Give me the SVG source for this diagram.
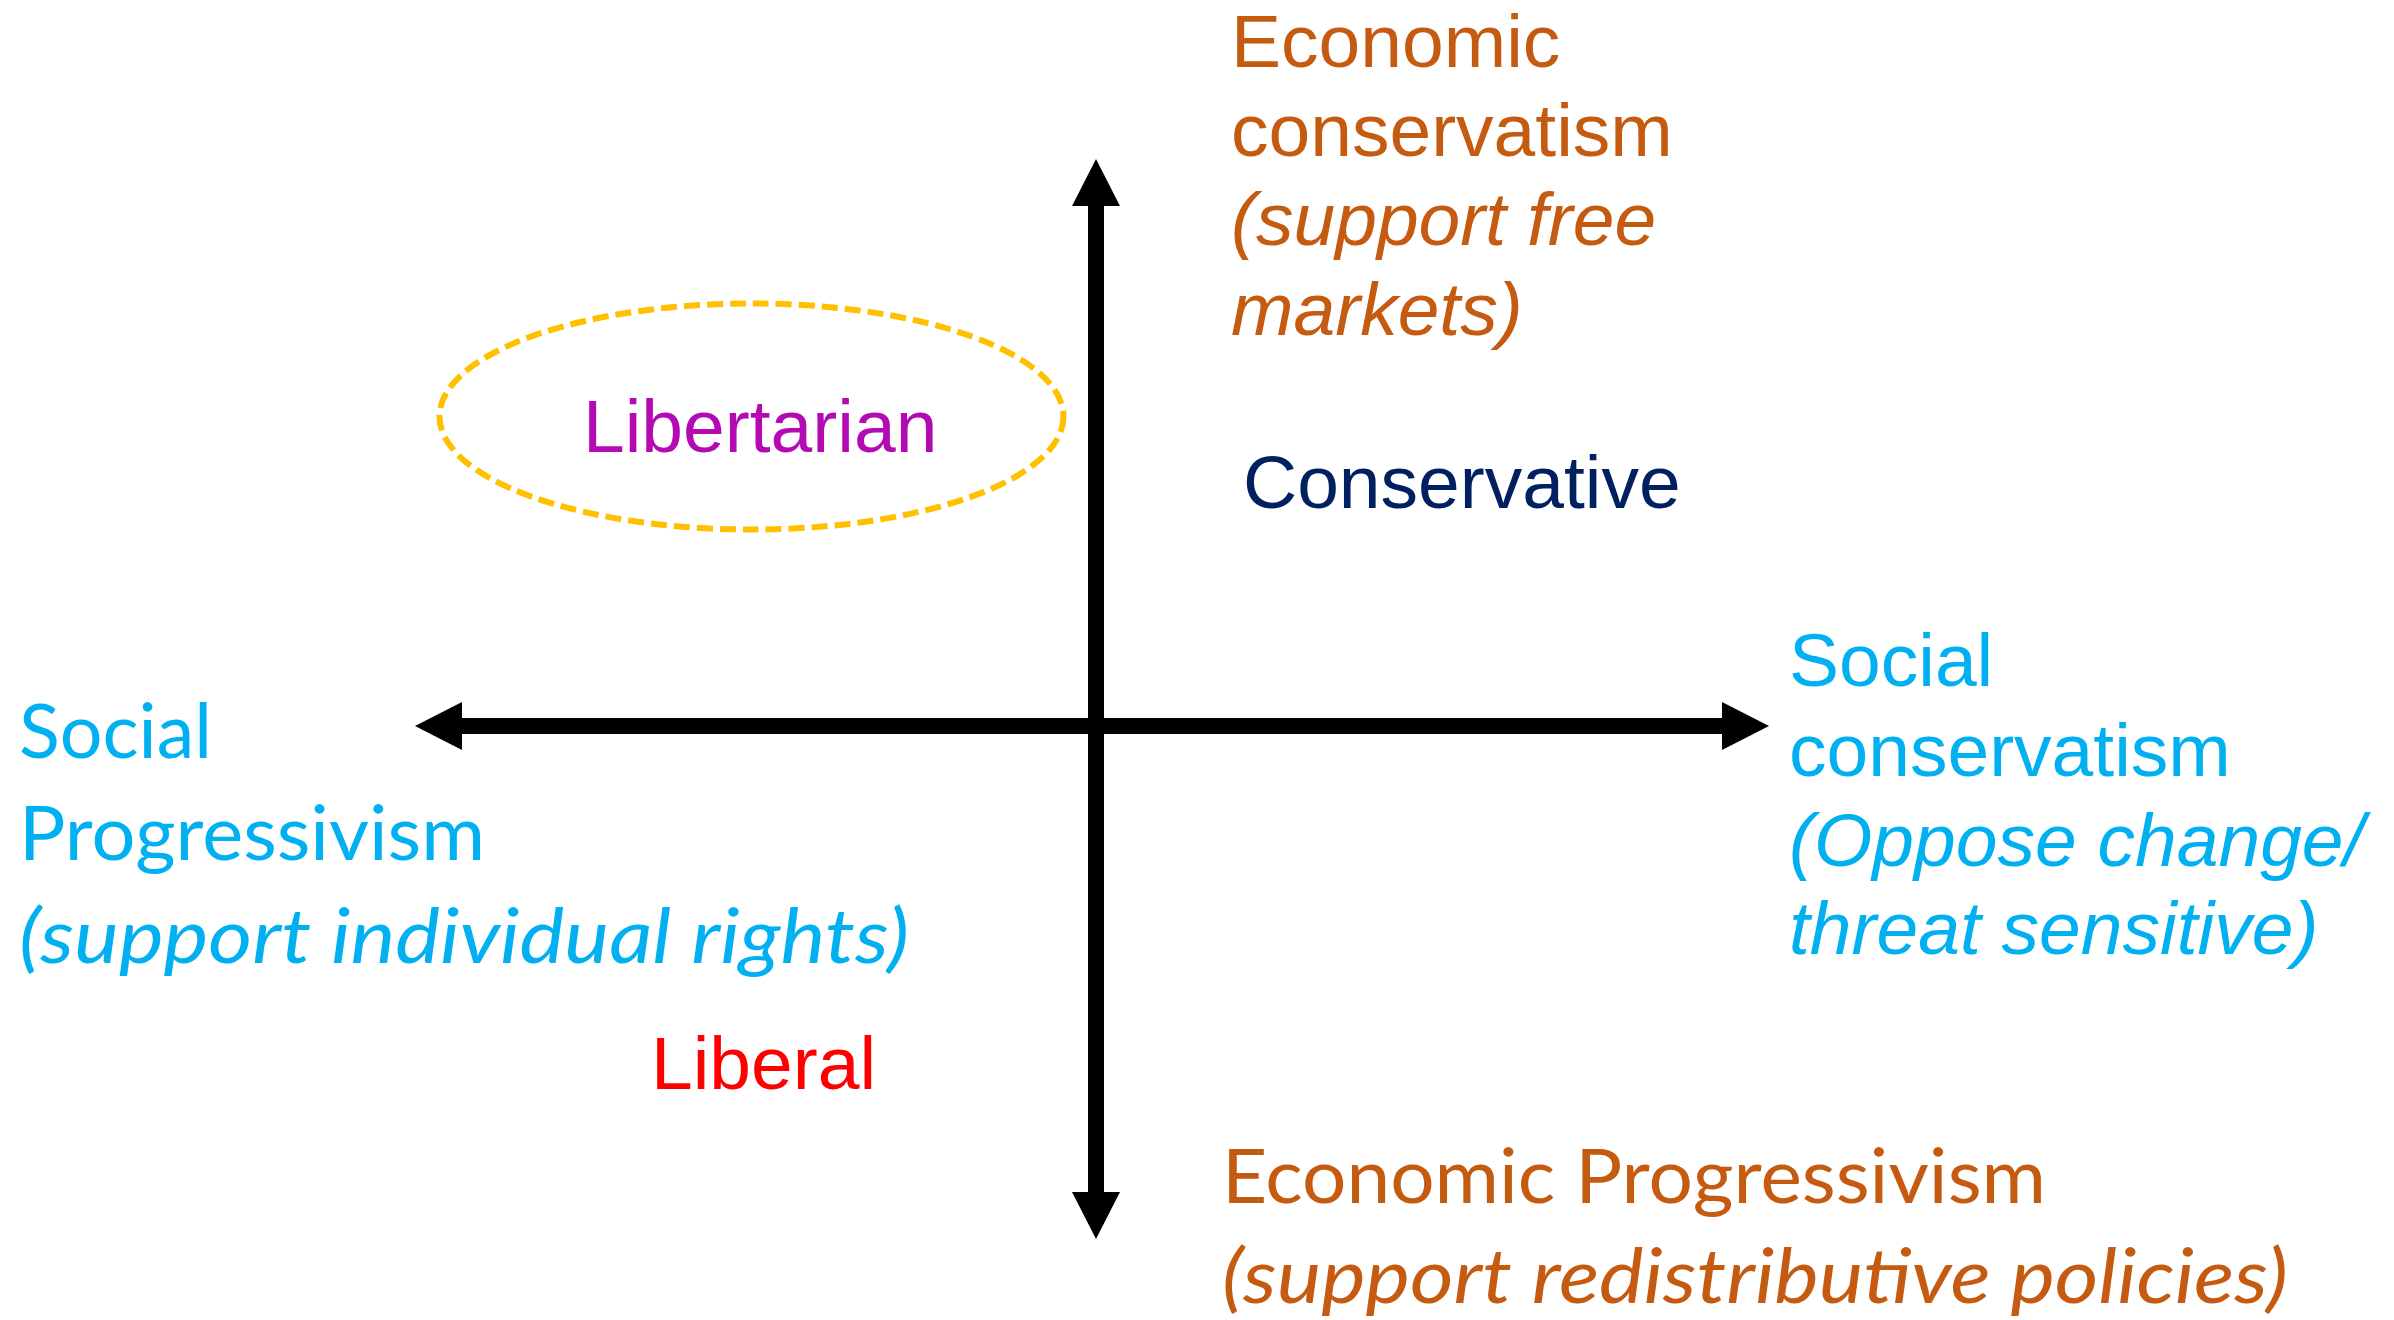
<svg xmlns="http://www.w3.org/2000/svg" width="2394" height="1320" viewBox="0 0 2394 1320">
  <style>
    .arial { font-family: "Liberation Sans", Arial, sans-serif; font-size: 75px; }
    .cal { font-family: Lato, "Open Sans", sans-serif; font-size: 76px; }
    .econ { fill: #C55A11; }
    .soc { fill: #00B0F0; }
    .it { font-style: italic; }
    .axis { stroke: #000; stroke-width: 16; fill: none; }
  </style>
  <defs>
    <marker id="head" markerUnits="userSpaceOnUse" markerWidth="48" markerHeight="48" viewBox="0 0 48 48" refX="0" refY="24" orient="auto-start-reverse">
      <path d="M0,0 L47,24 L0,48 Z" fill="#000"/>
    </marker>
  </defs>
  <rect width="2394" height="1320" fill="#fff"/>

  <g id="connectors">
    <line class="axis" x1="462" y1="726" x2="1722" y2="726" marker-start="url(#head)" marker-end="url(#head)"/>
    <line class="axis" x1="1096" y1="206" x2="1096" y2="1192" marker-start="url(#head)" marker-end="url(#head)"/>
  </g>

  <g id="economic-conservatism">
    <text class="arial econ" x="1231" y="67">Economic</text>
    <text class="arial econ" x="1231" y="156">conservatism</text>
    <text class="arial econ it" x="1231" y="245">(support free</text>
    <text class="arial econ it" x="1231" y="335">markets)</text>
  </g>

  <g id="libertarian">
    <ellipse cx="751.5" cy="416.5" rx="312" ry="113" fill="none" stroke="#FFC000" stroke-width="6" stroke-dasharray="16 7"/>
    <text class="arial" x="583" y="452" font-size="73" fill="#B40AB4">Libertarian</text>
  </g>

  <g id="conservative">
    <text class="arial" x="1243" y="508" fill="#002060">Conservative</text>
  </g>

  <g id="social-progressivism">
    <text class="cal soc" x="19" y="758" textLength="193" lengthAdjust="spacingAndGlyphs">Social</text>
    <text class="cal soc" x="19" y="860" textLength="466" lengthAdjust="spacingAndGlyphs">Progressivism</text>
    <text class="cal soc it" x="19" y="963" textLength="890" lengthAdjust="spacingAndGlyphs">(support individual rights)</text>
  </g>

  <g id="social-conservatism">
    <text class="arial soc" x="1789" y="686">Social</text>
    <text class="arial soc" x="1789" y="776">conservatism</text>
    <text class="arial soc it" x="1789" y="866">(Oppose change/</text>
    <text class="arial soc it" x="1789" y="954">threat sensitive)</text>
  </g>

  <g id="liberal">
    <text class="arial" x="651" y="1089" font-size="73" fill="#FF0000">Liberal</text>
  </g>

  <g id="economic-progressivism">
    <text class="cal econ" x="1222" y="1203" textLength="824" lengthAdjust="spacingAndGlyphs">Economic Progressivism</text>
    <text class="cal econ it" x="1222" y="1303" textLength="1066" lengthAdjust="spacingAndGlyphs">(support redistributive policies)</text>
  </g>
</svg>
